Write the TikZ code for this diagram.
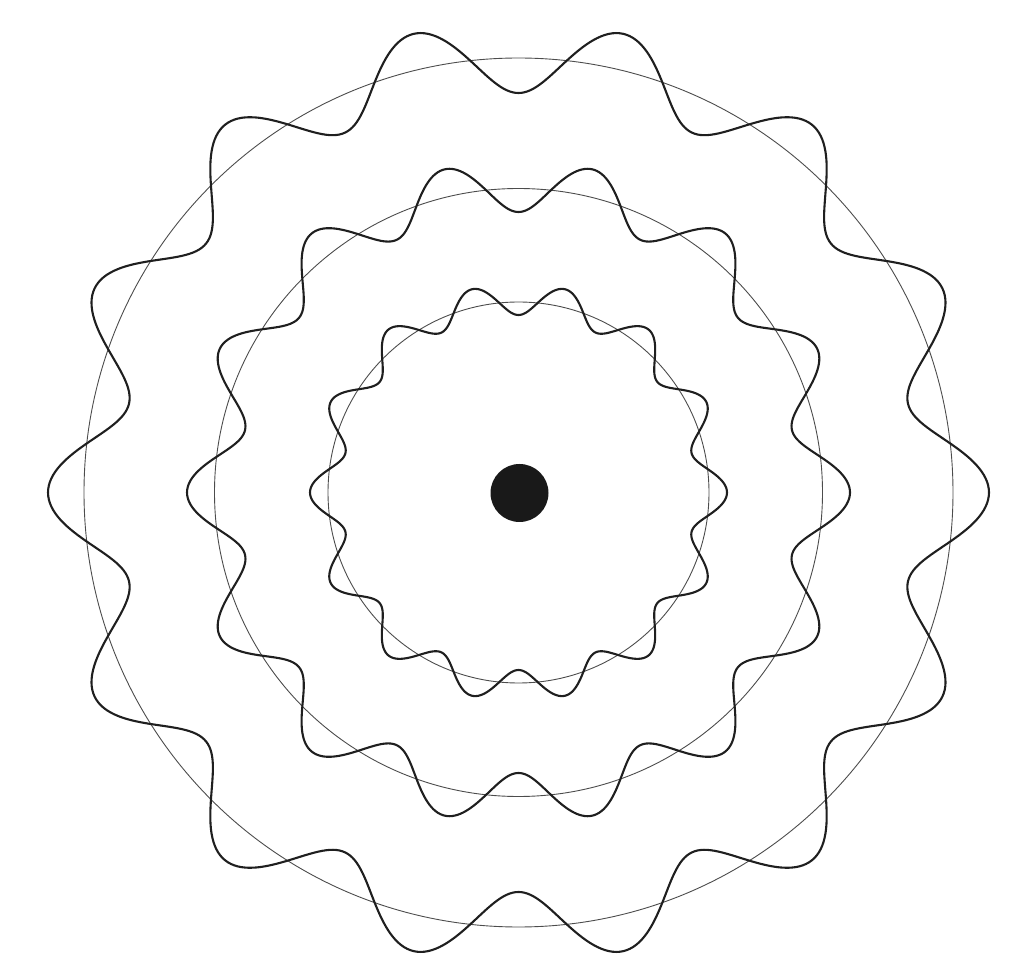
\documentclass[tikz,border=0pt]{standalone}
\begin{document}
\begin{tikzpicture}[x=0.5pt,y=-0.5pt,
  orbit/.style={draw=black!70, line width=0.45pt},
  wave/.style={draw=black!88, line width=1.05pt, line join=round},
  nucleus/.style={fill=black!90}]
\useasboundingbox (0,0) rectangle (1024,978);
\coordinate (c) at (518.5,492.5);
% orbits
\draw[orbit] (c) circle[radius=434.5];
\draw[orbit] (c) circle[radius=304];
\draw[orbit] (c) circle[radius=190.5];
% standing waves
\draw[wave] plot[domain=0:360, samples=841, smooth] ({518.5+(435+35.5*cos(14*\x))*cos(\x)}, {492.5+(435+35.5*cos(14*\x))*sin(\x)}) -- cycle;
\draw[wave] plot[domain=0:360, samples=841, smooth] ({518.5+(306+25.5*cos(14*\x))*cos(\x)}, {492.5+(306+25.5*cos(14*\x))*sin(\x)}) -- cycle;
\draw[wave] plot[domain=0:360, samples=841, smooth] ({518.5+(193+15.5*cos(14*\x))*cos(\x)}, {492.5+(193+15.5*cos(14*\x))*sin(\x)}) -- cycle;
% nucleus
\fill[nucleus] (519.5,493) circle[radius=29];
\end{tikzpicture}
\end{document}
